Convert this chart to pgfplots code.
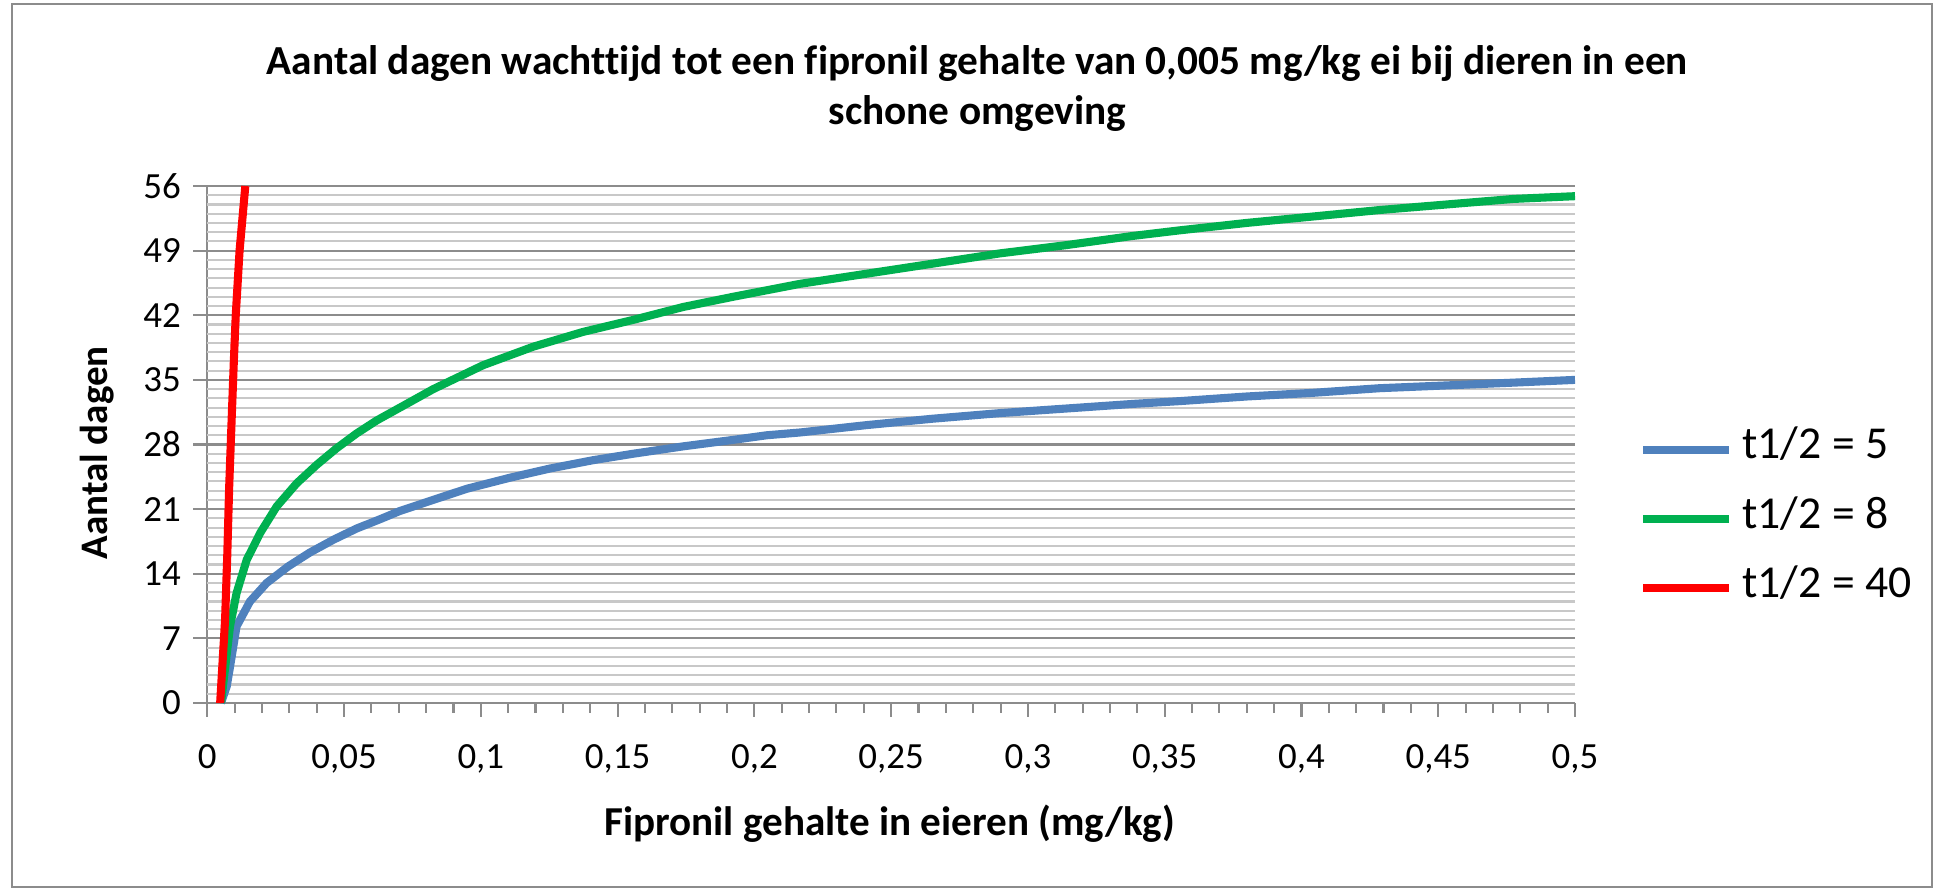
\documentclass[border=0pt]{standalone}
\usepackage{fontspec}
\setmainfont{Carlito}[Ligatures=NoCommon]
\usepackage{pgfplots}
\pgfplotsset{compat=1.18}
\definecolor{cblue}{HTML}{4F81BD}
\definecolor{cgreen}{HTML}{00B050}
\definecolor{cred}{HTML}{FF0000}
\definecolor{majgrid}{HTML}{8C8C8C}
\definecolor{mingrid}{HTML}{C8C8C8}
\begin{document}
\begin{tikzpicture}
\path[use as bounding box] (0,0) rectangle (19.39,8.92);
\draw[color=majgrid, line width=0.6pt] (0.12,0.05) rectangle (19.32,8.88);
\begin{axis}[
  at={(2.073cm,1.89cm)}, anchor=south west,
  scale only axis, width=13.677cm, height=5.17cm,
  xmin=0, xmax=0.5, ymin=0, ymax=56,
  clip=false,
  axis x line*=bottom, axis y line*=left,
  axis line style={majgrid, line width=0.6pt},
  tick align=outside,
  major tick length=0.14cm, minor tick length=0.1cm,
  tick style={majgrid, line width=0.6pt},
  xtick={0,0.05,0.1,0.15,0.2,0.25,0.3,0.35,0.4,0.45,0.5},
  xticklabels={0,{0,05},{0,1},{0,15},{0,2},{0,25},{0,3},{0,35},{0,4},{0,45},{0,5}},
  minor x tick num=4,
  ytick={0,7,14,21,28,35,42,49,56},
  yticklabels={0,7,14,21,28,35,42,49,56},
  ymajorgrids,
  major grid style={majgrid, line width=0.6pt},
  extra y ticks={1,2,3,4,5,6,8,9,10,11,12,13,15,16,17,18,19,20,22,23,24,25,26,27,29,30,31,32,33,34,36,37,38,39,40,41,43,44,45,46,47,48,50,51,52,53,54,55},
  extra y tick labels={},
  extra y tick style={grid=major, major grid style={mingrid, line width=0.6pt}, major tick length=0pt},
  tick label style={font=\fontsize{10.5}{12}\selectfont, text=black},
  xticklabel style={yshift=-0.15cm},
  title={Aantal dagen wachttijd tot een fipronil gehalte van 0,005 mg/kg ei bij dieren in een\\schone omgeving},
  title style={at={(axis description cs:0.563,1.148)}, anchor=center, align=center, font=\bfseries\fontsize{11.75}{14.2}\selectfont},
  xlabel={Fipronil gehalte in eieren (mg/kg)},
  xlabel style={at={(axis description cs:0.499,-0.233)}, anchor=center, font=\bfseries\fontsize{11.7}{13}\selectfont},
  ylabel={Aantal dagen},
  ylabel style={at={(axis description cs:-0.0805,0.484)}, anchor=center, font=\bfseries\fontsize{11.1}{13}\selectfont},
  legend style={at={(axis description cs:1.0466,0.356)}, anchor=west, draw=none, fill=none,
    font=\fontsize{13}{15}\selectfont, row sep=0.375cm, column sep=0.09cm, inner sep=0pt,
    nodes={inner sep=0pt, text height=1.5ex, text depth=0.4ex}},
  legend cell align=left,
  legend image code/.code={\draw[#1] (0cm,0cm) -- (0.86cm,0cm);},
]
\addplot[cblue, line width=2.3pt] coordinates {
(0.005,0) (0.0071,1.8) (0.0083,3.9) (0.0095,6.1) (0.0107,8.3) (0.0156,11.0)
(0.0217,13.0) (0.0296,14.8) (0.0375,16.3) (0.0462,17.7) (0.0546,18.9)
(0.0631,19.9) (0.0704,20.8) (0.0948,23.2) (0.1106,24.4) (0.1253,25.4)
(0.141,26.3) (0.1557,27.0) (0.174,27.8) (0.1922,28.5) (0.2045,29.0)
(0.2166,29.3) (0.241,30.1) (0.2654,30.8) (0.2897,31.4) (0.3141,31.9)
(0.3385,32.4) (0.3555,32.7) (0.3799,33.2) (0.4043,33.6) (0.4286,34.1)
(0.453,34.4) (0.4774,34.7) (0.5,35.0)
};
\addlegendentry{t1/2 = 5}
\addplot[cgreen, line width=2.3pt] coordinates {
(0.005,0) (0.0083,8.3) (0.0107,11.9) (0.0144,15.5) (0.0193,18.4) (0.0254,21.3)
(0.0327,23.8) (0.040,25.8) (0.0473,27.6) (0.0546,29.2) (0.0619,30.6)
(0.0741,32.6) (0.0826,34.0) (0.1009,36.6) (0.1192,38.6) (0.1374,40.2)
(0.1557,41.5) (0.174,42.9) (0.1922,44.0) (0.2166,45.4) (0.241,46.5)
(0.2654,47.6) (0.2897,48.7) (0.3141,49.6) (0.3385,50.6) (0.3555,51.2)
(0.3799,52.0) (0.4043,52.7) (0.4286,53.4) (0.453,54.0) (0.4774,54.6) (0.5,54.9)
};
\addlegendentry{t1/2 = 8}
\addplot[cred, line width=2.3pt] coordinates {
(0.0047,0) (0.0065,9) (0.0073,16) (0.0080,23.4) (0.0089,30.7) (0.0097,37)
(0.0104,42) (0.0118,49) (0.0139,56)
};
\addlegendentry{t1/2 = 40}
\end{axis}
\end{tikzpicture}
\end{document}
